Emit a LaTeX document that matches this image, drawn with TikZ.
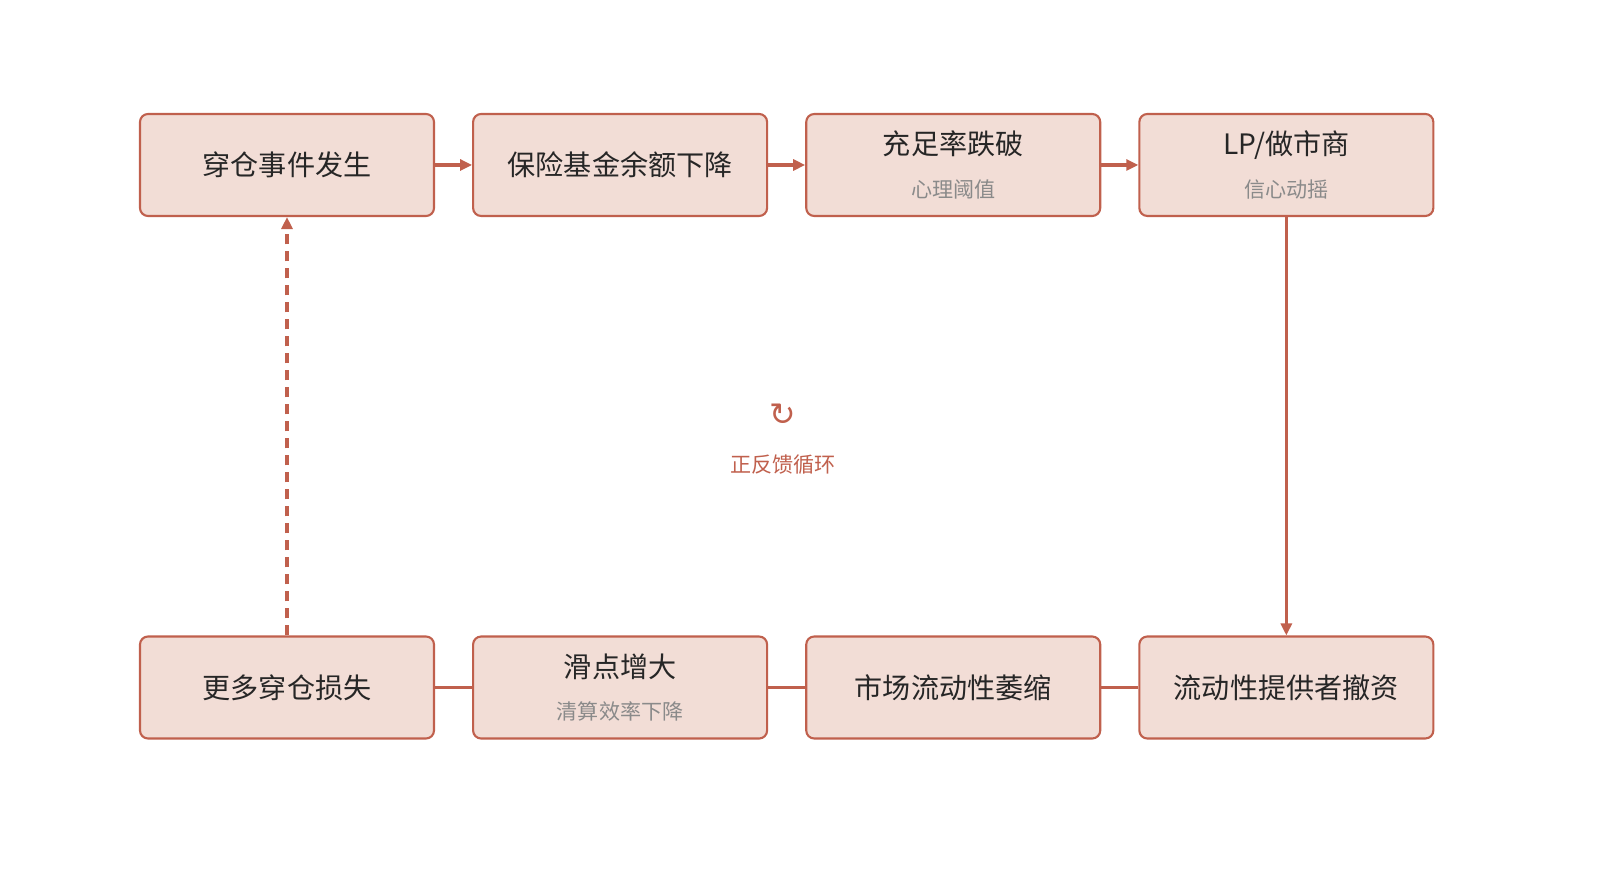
\documentclass[tikz,border=0pt]{standalone}
\usepackage{fontspec}
\usetikzlibrary{positioning, arrows.meta}
\newfontfamily\cjk{Noto Sans CJK SC}
\newfontfamily\symfont{DejaVu Sans}
\definecolor{boxfill}{HTML}{F2DDD6}
\definecolor{boxline}{HTML}{C0604D}
\definecolor{maintext}{HTML}{262626}
\definecolor{subtext}{HTML}{8A8A8A}

\begin{document}
\begin{tikzpicture}[thick,
    stage/.style={draw=boxline, fill=boxfill, rounded corners=0.08cm, line width=0.6pt,
        minimum width=2.94cm, minimum height=1.02cm, align=center, inner sep=0pt,
        font=\cjk\fontsize{8}{10}\selectfont, text=maintext},
    link/.style={draw=boxline, line width=1pt},
    flow/.style={link, -{Triangle[length=0.12cm, width=0.11cm]}}]

    % canvas
    \useasboundingbox (0,0) rectangle (16,8.89);

    % 1. Top row
    \node[stage] (crash) at (2.87,7.24) {穿仓事件发生};
    \node[stage, right=0.37cm of crash] (fund) {保险基金余额下降};
    \node[stage, right=0.37cm of fund] (ratio) {充足率跌破\\[2pt]{\fontsize{6}{8}\selectfont\color{subtext}心理阈值}};
    \node[stage, right=0.37cm of ratio] (lp) {LP/做市商\\[2pt]{\fontsize{6}{8}\selectfont\color{subtext}信心动摇}};

    % 2. Bottom row
    \node[stage] (loss) at (2.87,2.015) {更多穿仓损失};
    \node[stage, right=0.37cm of loss] (slip) {滑点增大\\[2pt]{\fontsize{6}{8}\selectfont\color{subtext}清算效率下降}};
    \node[stage, right=0.37cm of slip] (shrink) {市场流动性萎缩};
    \node[stage, right=0.37cm of shrink] (exit) {流动性提供者撤资};

    % 3. Connectors
    \draw[flow] (crash) -- (fund);
    \draw[flow] (fund) -- (ratio);
    \draw[flow] (ratio) -- (lp);
    \draw[flow] (lp) -- (exit);
    \draw[link] (exit) -- (shrink);
    \draw[link] (shrink) -- (slip);
    \draw[link] (slip) -- (loss);
    \draw[flow, dashed, dash pattern=on 0.1cm off 0.07cm] (loss) -- (crash);

    % 4. Centre label
    \node[text=boxline, font=\symfont\fontsize{9}{10}\selectfont] (cycle) at (7.83,4.74) {↻};
    \node[text=boxline, font=\cjk\fontsize{6}{8}\selectfont, below=0.03cm of cycle] (cyclelabel) {正反馈循环};

\end{tikzpicture}
\end{document}
